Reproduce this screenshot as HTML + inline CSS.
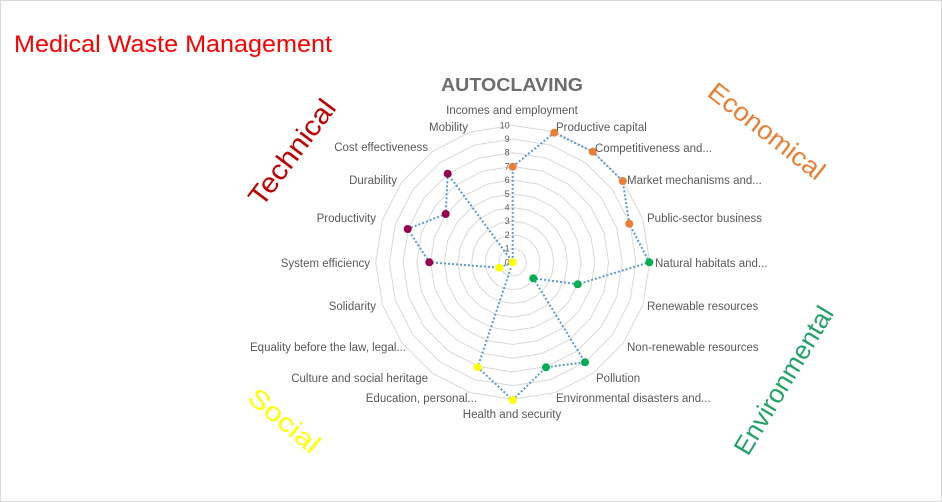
<!DOCTYPE html>
<html><head><meta charset="utf-8"><style>
html,body{margin:0;padding:0;background:#fff;}
svg{display:block;font-family:"Liberation Sans",sans-serif;}
.l{font-size:11.5px;fill:#595959;}
.n{font-size:9px;fill:#595959;}
</style></head><body>
<svg width="942" height="502" viewBox="0 0 942 502" xmlns="http://www.w3.org/2000/svg">
<rect x="0.5" y="0.5" width="941" height="501" fill="#fff" stroke="#d9d9d9"/>
<text x="14" y="52" font-size="24" fill="#ff0000" textLength="318" lengthAdjust="spacingAndGlyphs">Medical Waste Management</text>
<text x="512" y="91" font-size="18" font-weight="bold" fill="#6d6d6d" text-anchor="middle" textLength="142" lengthAdjust="spacingAndGlyphs">AUTOCLAVING</text>
<g id="grid" fill="none" stroke="#d9d9d9" stroke-width="1"></g>
<g id="nums"></g>
<polyline fill="none" stroke="#5b9bd5" stroke-width="2" stroke-dasharray="2,2" points="512.7,166.7 554.3,132.7 592.7,151.7 622.7,181 629.3,223.7 649.3,262.3 577.7,284.3 533.3,278.3 585,362.3 546,367.3 512.7,400 477.7,367.3 512.7,262.3 512.7,262.3 499.3,267.7 429.3,262.3 407.7,229 445.7,214 447.7,173.7 512.7,262.3 512.7,166.7"/>
<g fill="#ed7d31">
<circle cx="512.7" cy="166.7" r="4"/><circle cx="554.3" cy="132.7" r="4"/><circle cx="592.7" cy="151.7" r="4"/><circle cx="622.7" cy="181" r="4"/><circle cx="629.3" cy="223.7" r="4"/></g>
<g fill="#00b050">
<circle cx="649.3" cy="262.3" r="4"/><circle cx="577.7" cy="284.3" r="4"/><circle cx="533.3" cy="278.3" r="4"/><circle cx="585" cy="362.3" r="4"/><circle cx="546" cy="367.3" r="4"/></g>
<g fill="#ffff00">
<circle cx="512.7" cy="400" r="4"/><circle cx="477.7" cy="367.3" r="4"/><circle cx="499.3" cy="267.7" r="4"/><circle cx="512.7" cy="262.3" r="4"/></g>
<g fill="#990050">
<circle cx="429.3" cy="262.3" r="4"/><circle cx="407.7" cy="229" r="4"/><circle cx="445.7" cy="214" r="4"/><circle cx="447.7" cy="173.7" r="4"/></g>
<g class="l">
<text x="512" y="114" text-anchor="middle">Incomes and employment</text>
<text x="556" y="131">Productive capital</text>
<text x="595" y="152">Competitiveness and...</text>
<text x="627" y="184">Market mechanisms and...</text>
<text x="647" y="222">Public-sector business</text>
<text x="655" y="267">Natural habitats and...</text>
<text x="647" y="310">Renewable resources</text>
<text x="627" y="351">Non-renewable resources</text>
<text x="596" y="382">Pollution</text>
<text x="556" y="402">Environmental disasters and...</text>
<text x="512" y="418" text-anchor="middle">Health and security</text>
<text x="477" y="402" text-anchor="end">Education, personal...</text>
<text x="428" y="382" text-anchor="end">Culture and social heritage</text>
<text x="406" y="351" text-anchor="end">Equality before the law, legal...</text>
<text x="376" y="310" text-anchor="end">Solidarity</text>
<text x="370" y="267" text-anchor="end">System efficiency</text>
<text x="376" y="222" text-anchor="end">Productivity</text>
<text x="397" y="184" text-anchor="end">Durability</text>
<text x="428" y="151" text-anchor="end">Cost effectiveness</text>
<text x="468" y="131" text-anchor="end">Mobility</text>
</g>
<text transform="translate(262,208) rotate(-53)" font-size="28" fill="#c00000" textLength="125" lengthAdjust="spacingAndGlyphs">Technical</text>
<text transform="translate(706,95) rotate(38)" font-size="26" fill="#ed7d31" textLength="140" lengthAdjust="spacingAndGlyphs">Economical</text>
<text transform="translate(246,400) rotate(40)" font-size="26" fill="#ffff00" textLength="85" lengthAdjust="spacingAndGlyphs">Social</text>
<text transform="translate(748,457) rotate(-59)" font-size="26" fill="#21a366" textLength="168" lengthAdjust="spacingAndGlyphs">Environmental</text>
<script>
(function(){
var cx=512.7,cy=262.3,R=137,ns="http://www.w3.org/2000/svg";
var g=document.getElementById('grid'),nm=document.getElementById('nums');
for(var k=1;k<=10;k++){var r=R*k/10,p=[];
for(var i=0;i<20;i++){var a=i*Math.PI/10;p.push((cx+r*Math.sin(a)).toFixed(1)+','+(cy-r*Math.cos(a)).toFixed(1));}
var pg=document.createElementNS(ns,'polygon');pg.setAttribute('points',p.join(' '));g.appendChild(pg);}
for(var k=0;k<=10;k++){var t=document.createElementNS(ns,'text');t.setAttribute('class','n');t.setAttribute('x',cx-3);t.setAttribute('y',cy-R*k/10+3);t.setAttribute('text-anchor','end');t.textContent=k;nm.appendChild(t);}
})();
</script>
</svg>
</body></html>
